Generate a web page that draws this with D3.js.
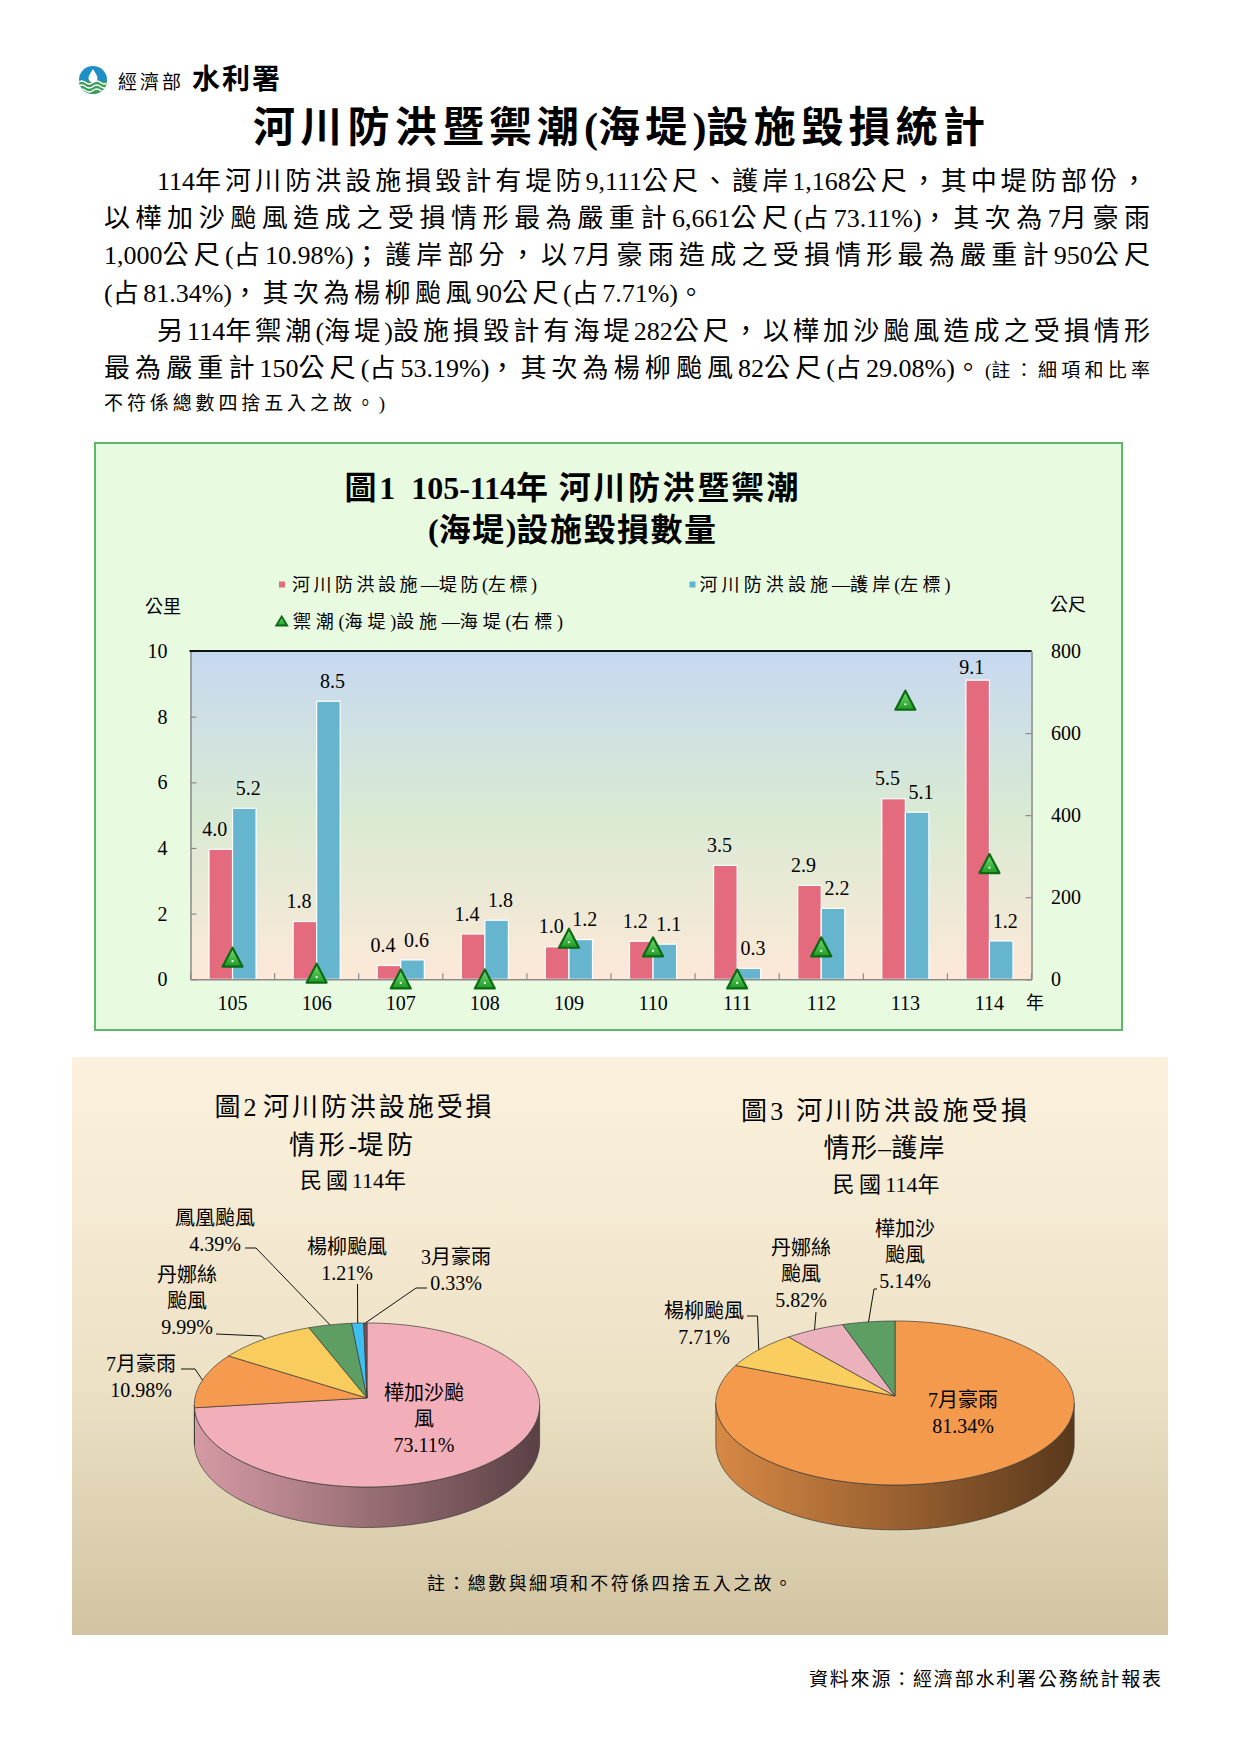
<!DOCTYPE html>
<html>
<head>
<meta charset="utf-8">
<script src="https://cdn.jsdelivr.net/npm/d3@7"></script>
<style>
  body { margin: 0; background: #fff; }
  svg { display: block; }
</style>
</head>
<body>
<div id="page"></div>
<script>
// ---- data ----
let years = ["105", "106", "107", "108", "109", "110", "111", "112", "113", "114"];
let dikeKm = [3.96, 1.76, 0.42, 1.38, 0.99, 1.16, 3.47, 2.86, 5.50, 9.111];   // 河川防洪設施—堤防 (公里)
let revetKm = [5.21, 8.47, 0.59, 1.80, 1.21, 1.07, 0.33, 2.16, 5.09, 1.168];  // 河川防洪設施—護岸 (公里)
let seawallM = [54, 15, 1, 1, 100, 79, 1, 79, 680, 282];                     // 禦潮(海堤)設施—海堤 (公尺)

let leftTicks = [0, 2, 4, 6, 8, 10];
let rightTicks = [0, 200, 400, 600, 800];

let dikeCauses = ["樺加沙颱風", "7月豪雨", "丹娜絲颱風", "鳳凰颱風", "楊柳颱風", "3月豪雨"];
let dikeShares = [73.11, 10.98, 9.99, 4.39, 1.21, 0.33];
let revetCauses = ["7月豪雨", "楊柳颱風", "丹娜絲颱風", "樺加沙颱風"];
let revetShares = [81.34, 7.71, 5.82, 5.14];

let width = 1241;
let height = 1755;
const SERIF = "'Liberation Serif','Noto Sans CJK TC',serif";
const CJK = /[\u2E80-\u9FFF\uF900-\uFFEF]/;

let svg = d3.select("#page").append("svg")
  .attr("width", width)
  .attr("height", height);
let defs = svg.append("defs");

// text helper: cy is the visual centre of the line
function put(g, str, o) {
  let fs = o.size || 20;
  let t = g.append("text")
    .attr("x", o.x)
    .attr("y", o.cy + fs * (o.num ? 0.33 : 0.36))
    .attr("font-family", SERIF)
    .attr("font-size", fs)
    .attr("fill", o.fill || "#000")
    .attr("text-anchor", o.anchor || "start")
    .text(str);
  if (o.weight) t.attr("font-weight", o.weight);
  return t;
}

// like put, but stretches the line to o.len by spacing out only the CJK glyphs
function putJ(g, str, o) {
  let fs = o.size || 20;
  let t = g.append("text")
    .attr("x", o.x)
    .attr("y", o.cy + fs * 0.36)
    .attr("font-family", SERIF)
    .attr("font-size", fs)
    .attr("fill", "#000")
    .attr("xml:space", "preserve");
  if (o.weight) t.attr("font-weight", o.weight);
  let runs = str.match(/[\u2E80-\u9FFF\uF900-\uFFEF]+|[^\u2E80-\u9FFF\uF900-\uFFEF]+/g);
  runs.forEach(r => t.append("tspan").classed("cj", CJK.test(r)).text(r));
  let w0 = t.node().getComputedTextLength();
  let n = str.split("").filter(c => CJK.test(c)).length;
  if (CJK.test(str[str.length - 1])) n -= 1;
  let ls = n > 0 ? (o.len - w0) / n : 0;
  t.selectAll("tspan.cj").attr("letter-spacing", ls);
  return t;
}

function vGrad(id, stops) {
  let gr = defs.append("linearGradient").attr("id", id)
    .attr("x1", 0).attr("y1", 0).attr("x2", 0).attr("y2", 1);
  stops.forEach(s => gr.append("stop").attr("offset", s[0]).attr("stop-color", s[1]));
}

// ---- header ----
let logo = svg.append("g").attr("transform", "translate(93,80)");
defs.append("clipPath").attr("id", "logoClip").append("circle").attr("r", 14);
logo.append("circle").attr("r", 14).attr("fill", "#1f8dc6");
let lc = logo.append("g").attr("clip-path", "url(#logoClip)");
lc.append("rect").attr("x", -15).attr("y", 1).attr("width", 30).attr("height", 15).attr("fill", "#3f9d5c");
[2.5, 6.5, 10.5].forEach(yy => {
  lc.append("path")
    .attr("d", `M-15,${yy} q3.75,-3 7.5,0 t7.5,0 t7.5,0 t7.5,0`)
    .attr("fill", "none").attr("stroke", "#fff").attr("stroke-width", 1.6);
});
logo.append("path").attr("d", "M0,-11 C3,-6 4.5,-4 4.5,-2 A4.5,4.5 0 0 1 -4.5,-2 C-4.5,-4 -3,-6 0,-11 Z").attr("fill", "#fff");
putJ(svg, "經濟部", {x: 118, cy: 82, size: 19, len: 63});
putJ(svg, "水利署", {x: 192, cy: 79, size: 28, weight: 700, len: 88});

putJ(svg, "河川防洪暨禦潮(海堤)設施毀損統計", {x: 253, cy: 127, size: 42, weight: 700, len: 732});

let body = [
  {t: "114年河川防洪設施損毀計有堤防9,111公尺、護岸1,168公尺，其中堤防部份，", x: 157, len: 990, cy: 181},
  {t: "以樺加沙颱風造成之受損情形最為嚴重計6,661公尺(占73.11%)，其次為7月豪雨", x: 104, len: 1046, cy: 218},
  {t: "1,000公尺(占10.98%)；護岸部分，以7月豪雨造成之受損情形最為嚴重計950公尺", x: 104, len: 1046, cy: 255},
  {t: "(占81.34%)，其次為楊柳颱風90公尺(占7.71%)。", x: 104, len: 600, cy: 293},
  {t: "另114年禦潮(海堤)設施損毀計有海堤282公尺，以樺加沙颱風造成之受損情形", x: 157, len: 993, cy: 331},
  {t: "最為嚴重計150公尺(占53.19%)，其次為楊柳颱風82公尺(占29.08%)。", x: 104, len: 877, cy: 368},
  {t: "(註：細項和比率", x: 985, len: 165, cy: 370, size: 19},
  {t: "不符係總數四捨五入之故。)", x: 104, len: 281, cy: 403, size: 19}
];
body.forEach(b => putJ(svg, b.t, {x: b.x, cy: b.cy, size: b.size || 26, len: b.len}));

// ---- figure 1 : bars + triangles ----
let box = svg.append("g");
box.append("rect")
  .attr("x", 95).attr("y", 443).attr("width", 1027).attr("height", 587)
  .attr("fill", "#e8fae0").attr("stroke", "#5cb96c").attr("stroke-width", 2);

putJ(box, "圖1  105-114年 河川防洪暨禦潮", {x: 344.5, cy: 487, size: 32, weight: 700, len: 454});
putJ(box, "(海堤)設施毀損數量", {x: 428, cy: 529, size: 32, weight: 700, len: 288});

let plot = {l: 190.5, r: 1031.5, t: 651, b: 979.3};

vGrad("plotBg", [[0, "#c6d8f0"], [0.5, "#d9ead3"], [1, "#fde8d8"]]);
vGrad("triFill", [[0, "#7be07a"], [1, "#1d9a22"]]);

box.append("rect")
  .attr("x", plot.l).attr("y", plot.t)
  .attr("width", plot.r - plot.l).attr("height", plot.b - plot.t)
  .attr("fill", "url(#plotBg)");

let x0 = d3.scaleBand().domain(years).range([plot.l, plot.r]).paddingInner(0.44).paddingOuter(0.22);
let x1 = d3.scaleBand().domain(["dike", "revet"]).range([0, x0.bandwidth()]);
let yL = d3.scaleLinear().domain([0, 10]).range([plot.b, plot.t]);
let yR = d3.scaleLinear().domain([0, 800]).range([plot.b, plot.t]);

let barColor = {dike: "#e46a7d", revet: "#65b5cf"};
let labelDx = {dike: -6, revet: 4};

let rows = years.map((y, i) => ({year: y, dike: dikeKm[i], revet: revetKm[i], sea: seawallM[i]}));

let barG = box.append("g");
["dike", "revet"].forEach(key => {
  barG.selectAll(".bar-" + key)
    .data(rows)
    .enter()
    .append("rect")
    .attr("x", d => x0(d.year) + x1(key))
    .attr("y", d => yL(d[key]))
    .attr("width", x1.bandwidth())
    .attr("height", d => plot.b - yL(d[key]))
    .attr("fill", barColor[key])
    .attr("stroke", "#fff")
    .attr("stroke-width", 1.2);
});

// boundary ticks on the category axis
let bTicks = d3.range(0, years.length + 1).map(i => plot.l + i * x0.step());
box.selectAll(".btick").data(bTicks).enter().append("line")
  .attr("x1", d => d).attr("x2", d => d)
  .attr("y1", plot.b).attr("y2", plot.b - 6)
  .attr("stroke", "#8a8a8a").attr("stroke-width", 1.2);

function styleAxis(g) {
  g.selectAll("path.domain").attr("stroke", "#8a8a8a").attr("stroke-width", 1.5);
  g.selectAll(".tick line").attr("stroke", "#8a8a8a").attr("stroke-width", 1.2);
  g.selectAll("text").attr("font-family", SERIF).attr("font-size", 20).attr("fill", "#000");
}

box.append("g")
  .attr("transform", `translate(${plot.l},0)`)
  .call(d3.axisLeft(yL).tickValues(leftTicks).tickSizeInner(-6).tickSizeOuter(0).tickPadding(23))
  .call(styleAxis);

box.append("g")
  .attr("transform", `translate(${plot.r},0)`)
  .call(d3.axisRight(yR).tickValues(rightTicks).tickSizeInner(-6).tickSizeOuter(0).tickPadding(19.5))
  .call(styleAxis);

box.append("g")
  .attr("transform", `translate(0,${plot.b})`)
  .call(d3.axisBottom(x0).tickSize(0).tickPadding(16.5))
  .call(styleAxis)
  .call(g => g.selectAll(".tick line").remove());

box.append("line")
  .attr("x1", plot.l - 1).attr("x2", plot.r)
  .attr("y1", plot.t).attr("y2", plot.t)
  .attr("stroke", "#111").attr("stroke-width", 2);

put(box, "年", {x: 1035, cy: 1003, size: 18, anchor: "middle"});

// value labels
let fmt1 = d3.format(".1f");
["dike", "revet"].forEach(key => {
  barG.selectAll(".lab-" + key)
    .data(rows)
    .enter()
    .append("text")
    .attr("x", d => x0(d.year) + x1(key) + x1.bandwidth() / 2 + labelDx[key])
    .attr("y", d => Math.max(yL(d[key]) - 13.4, plot.t + 22.6))
    .attr("text-anchor", "middle")
    .attr("font-family", SERIF)
    .attr("font-size", 20)
    .attr("fill", "#000")
    .text(d => fmt1(d[key]));
});

// triangles (right axis)
function triPath(cx, cy, w, h) {
  return `M${cx},${cy - h / 2} L${cx + w / 2},${cy + h / 2} L${cx - w / 2},${cy + h / 2} Z`;
}
let triG = box.append("g");
triG.selectAll("path")
  .data(rows)
  .enter()
  .append("path")
  .attr("d", d => triPath(x0(d.year) + x0.bandwidth() / 2, yR(d.sea), 20, 19))
  .attr("fill", "url(#triFill)")
  .attr("stroke", "#0d6a14")
  .attr("stroke-width", 2.2)
  .attr("stroke-linejoin", "round");
triG.selectAll("circle")
  .data(rows)
  .enter()
  .append("circle")
  .attr("cx", d => x0(d.year) + x0.bandwidth() / 2)
  .attr("cy", d => yR(d.sea) + 4)
  .attr("r", 1.1)
  .attr("fill", "#fff");

// legend and unit labels
box.append("rect").attr("x", 279).attr("y", 581.5).attr("width", 6).attr("height", 6).attr("fill", barColor.dike);
putJ(box, "河川防洪設施—堤防(左標)", {x: 292, cy: 585, size: 18, len: 245});
box.append("rect").attr("x", 689.5).attr("y", 581.5).attr("width", 6).attr("height", 6).attr("fill", barColor.revet);
putJ(box, "河川防洪設施—護岸(左標)", {x: 699.5, cy: 585, size: 18, len: 251});
box.append("path").attr("d", triPath(281.7, 621, 11, 9))
  .attr("fill", "url(#triFill)").attr("stroke", "#0d6a14").attr("stroke-width", 1.8);
putJ(box, "禦潮(海堤)設施—海堤(右標)", {x: 293, cy: 621.5, size: 18, len: 270});

put(box, "公里", {x: 163, cy: 607, size: 18, anchor: "middle"});
put(box, "公尺", {x: 1068, cy: 604.5, size: 18, anchor: "middle"});

// ---- figures 2 and 3 : 3D pies ----
vGrad("panelBg", [[0, "#fcf1dd"], [0.55, "#ede2c6"], [1, "#d2c4a2"]]);
svg.append("rect")
  .attr("x", 72).attr("y", 1057).attr("width", 1096).attr("height", 578)
  .attr("fill", "url(#panelBg)");

putJ(svg, "圖2 河川防洪設施受損", {x: 214.6, cy: 1107, size: 26, len: 277});
putJ(svg, "情形-堤防", {x: 289, cy: 1144.6, size: 26, len: 124});
putJ(svg, "民國114年", {x: 300, cy: 1180, size: 22, len: 106});

putJ(svg, "圖3  河川防洪設施受損", {x: 741, cy: 1110.7, size: 26, len: 286});
putJ(svg, "情形–護岸", {x: 823.6, cy: 1148, size: 26, len: 121});
putJ(svg, "民國114年", {x: 832.5, cy: 1184, size: 22, len: 107});

let dikeLayout = {
  "樺加沙颱風": {lines: ["樺加沙颱", "風"], x: 424, y: 1393},
  "7月豪雨": {lines: ["7月豪雨"], x: 141, y: 1364, leader: [[181, 1369], [195, 1369]]},
  "丹娜絲颱風": {lines: ["丹娜絲", "颱風"], x: 187, y: 1275, leader: [[216, 1334], [261, 1336]]},
  "鳳凰颱風": {lines: ["鳳凰颱風"], x: 215, y: 1218, leader: [[245, 1248], [256, 1248]]},
  "楊柳颱風": {lines: ["楊柳颱風"], x: 347, y: 1247, leader: [[357.5, 1284]]},
  "3月豪雨": {lines: ["3月豪雨"], x: 456, y: 1257, leader: [[427, 1288], [416, 1288]]}
};
let revetLayout = {
  "7月豪雨": {lines: ["7月豪雨"], x: 963, y: 1400},
  "楊柳颱風": {lines: ["楊柳颱風"], x: 704, y: 1311, leader: [[747, 1316], [757.5, 1316]]},
  "丹娜絲颱風": {lines: ["丹娜絲", "颱風"], x: 801, y: 1248, leader: [[816, 1312]]},
  "樺加沙颱風": {lines: ["樺加沙", "颱風"], x: 905, y: 1229, leader: [[877, 1289], [874, 1289]]}
};

function drawPie(cfg) {
  let g = svg.append("g");
  let k = cfg.k;
  let proj = (a, dz) => {
    let c = Math.cos(a), s = Math.sin(a), w = 1 + k * c;
    return [cfg.cx + cfg.rx * s / w, cfg.cy + (-cfg.ry * c + dz) / w];
  };
  let arcs = d3.pie().sort(null).value(d => d)(cfg.shares);
  let arcPts = (a0, a1, dz) => {
    let n = Math.max(2, Math.ceil((a1 - a0) / (Math.PI / 180)));
    return d3.range(n + 1).map(i => proj(a0 + (a1 - a0) * i / n, dz));
  };
  let line = d3.line();

  // side wall (front half only)
  let aMin = Math.acos(-k), aMax = 2 * Math.PI - Math.acos(-k);
  arcs.forEach((a, i) => {
    let s0 = Math.max(a.startAngle, aMin), s1 = Math.min(a.endAngle, aMax);
    if (s1 <= s0) return;
    let id = cfg.id + "side" + i;
    let base = d3.rgb(cfg.colors[i]);
    let gr = defs.append("linearGradient").attr("id", id)
      .attr("gradientUnits", "userSpaceOnUse")
      .attr("x1", cfg.cx - cfg.rx).attr("x2", cfg.cx + cfg.rx).attr("y1", 0).attr("y2", 0);
    let shade = f => d3.rgb(base.r * f, base.g * f, base.b * f).formatHex();
    gr.append("stop").attr("offset", 0).attr("stop-color", shade(0.88));
    gr.append("stop").attr("offset", 0.45).attr("stop-color", shade(0.66));
    gr.append("stop").attr("offset", 1).attr("stop-color", shade(0.37));
    let pts = arcPts(s0, s1, 0).concat(arcPts(s0, s1, cfg.depth).reverse());
    g.append("path").attr("d", line(pts) + "Z")
      .attr("fill", `url(#${id})`)
      .attr("stroke", "#3a3a3a").attr("stroke-width", 0.7);
  });

  // top face
  arcs.forEach((a, i) => {
    let pts = [[cfg.cx, cfg.cy]].concat(arcPts(a.startAngle, a.endAngle, 0));
    g.append("path").attr("d", line(pts) + "Z")
      .attr("fill", cfg.colors[i])
      .attr("stroke", "#3a3a3a").attr("stroke-width", 0.7)
      .attr("stroke-linejoin", "round");
  });

  // labels and leader lines
  arcs.forEach((a, i) => {
    let lay = cfg.layout[cfg.causes[i]];
    let lines = lay.lines.concat([d3.format(".2f")(cfg.shares[i]) + "%"]);
    lines.forEach((t, j) => put(g, t, {x: lay.x, cy: lay.y + j * 26, size: 20, anchor: "middle"}));
    if (lay.leader) {
      let rim = proj((a.startAngle + a.endAngle) / 2, 0);
      g.append("path").attr("d", line(lay.leader.concat([rim])))
        .attr("fill", "none").attr("stroke", "#111").attr("stroke-width", 1);
    }
  });
}

drawPie({
  id: "p1", cx: 367, cy: 1398, rx: 172, ry: 81.4, k: 0.0853, depth: 37,
  shares: dikeShares, causes: dikeCauses, layout: dikeLayout,
  colors: ["#f2afba", "#f59a4e", "#f9cc5e", "#5e9e63", "#3dbff2", "#7e4c55"]
});
drawPie({
  id: "p2", cx: 895, cy: 1396, rx: 178.5, ry: 81.4, k: 0.0853, depth: 41,
  shares: revetShares, causes: revetCauses, layout: revetLayout,
  colors: ["#f49a4d", "#f9cd5e", "#ebb1bc", "#5d9e62"]
});

putJ(svg, "註：總數與細項和不符係四捨五入之故。", {x: 427, cy: 1583.5, size: 18, len: 365});
putJ(svg, "資料來源：經濟部水利署公務統計報表", {x: 809, cy: 1679, size: 19, len: 352});
</script>
</body>
</html>
